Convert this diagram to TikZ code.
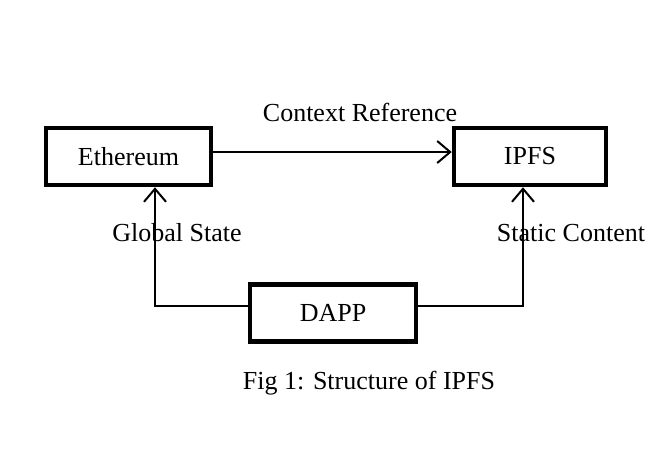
\documentclass[tikz,border=0pt]{standalone}
\usepackage{fontspec}
\setmainfont{Liberation Serif}
\usetikzlibrary{arrows.meta}
\begin{document}
\begin{tikzpicture}[x=1pt,y=-1pt,
  box/.style={draw=black,line width=4.5pt,minimum height=57pt,inner sep=0pt,font=\fontsize{26}{31}\selectfont},
  lbl/.style={inner sep=0pt,font=\fontsize{26}{31}\selectfont},
  conn/.style={draw=black,line width=2pt,-{Straight Barb[length=13pt,width=22pt,line width=2pt]}},
  plain/.style={draw=black,line width=2pt}]
\useasboundingbox (0,0) rectangle (666,456);
\node[box,minimum width=165pt] (eth) at (128.5,156.5) {Ethereum};
\node[box,minimum width=152pt] (ipfs) at (530,156.5) {IPFS};
\node[box,minimum width=166pt] (dapp) at (333,313) {DAPP};
\node[lbl] (ctx) at (360,112) {Context Reference};
\node[lbl] (gs) at (177,233) {Global State};
\node[lbl] (sc) at (571,233) {Static Content};
\node[lbl] (cap) at (369,383) {Fig 1: Structure of IPFS};
\draw[conn] ([yshift=4.5pt]eth.east) -- ([yshift=4.5pt]ipfs.west);
\draw[conn] ([yshift=7pt]dapp.west) -| ([xshift=26.5pt]eth.south);
\draw[conn] ([yshift=7pt]dapp.east) -| ([xshift=-7pt]ipfs.south);
\end{tikzpicture}
\end{document}
